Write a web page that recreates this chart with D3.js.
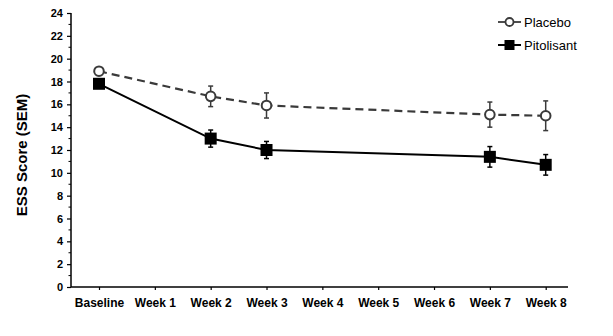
<!DOCTYPE html>
<html><head><meta charset="utf-8">
<script src="https://cdn.jsdelivr.net/npm/d3@7"></script>
<style>body{margin:0;background:#fff}svg{display:block;font-family:"Liberation Sans",Arial,sans-serif}</style>
</head><body><svg id="c" width="613" height="336"></svg>
<script>
const categories = ["Baseline","Week 1","Week 2","Week 3","Week 4","Week 5","Week 6","Week 7","Week 8"];
const placeboWeeks = ["Baseline","Week 2","Week 3","Week 7","Week 8"];
const placeboMean = [18.9, 16.7, 15.9, 15.1, 15.0];
const placeboSem  = [0, 0.9, 1.1, 1.1, 1.3];
const pitolisantWeeks = ["Baseline","Week 2","Week 3","Week 7","Week 8"];
const pitolisantMean = [17.8, 13.0, 12.0, 11.4, 10.7];
const pitolisantSem  = [0, 0.75, 0.75, 0.9, 0.9];
const yTicks = [0,2,4,6,8,10,12,14,16,18,20,22,24];
const yMinor = [1,3,5,7,9,11,13,15,17,19,21,23];

const svg = d3.select("#c");
const x = d3.scalePoint().domain(categories).range([99, 545.7]);
const y = d3.scaleLinear().domain([0,24]).range([287, 13]);
const axisLeft = 71, axisRight = 568;

// y axis
const ya = svg.append("g").attr("transform",`translate(${axisLeft},0)`)
  .call(d3.axisLeft(y).tickValues(yTicks).tickSize(4).tickPadding(4).tickFormat(d3.format("d")));
ya.select(".domain").attr("d",`M0,${y(24)}V${y(0)}`).attr("stroke","#000").attr("stroke-width",1.5);
ya.selectAll(".tick line").attr("stroke","#000").attr("stroke-width",1.2);
ya.selectAll(".tick text").attr("font-size",11).attr("font-weight","bold").attr("fill","#000");
svg.append("g").selectAll("line").data(yMinor).join("line")
  .attr("x1",axisLeft-2.5).attr("x2",axisLeft).attr("y1",d=>y(d)).attr("y2",d=>y(d))
  .attr("stroke","#000").attr("stroke-width",1);

// x axis
const xa = svg.append("g").attr("transform",`translate(0,${y(0)})`)
  .call(d3.axisBottom(x).tickSize(3).tickPadding(8));
xa.select(".domain").attr("d",`M${axisLeft},0H${axisRight}`).attr("stroke","#000").attr("stroke-width",1.5);
xa.selectAll(".tick line").attr("stroke","#000").attr("stroke-width",1.2);
xa.selectAll(".tick text").attr("font-size",12).attr("font-weight","bold").attr("fill","#000");

// y label
svg.append("text").attr("transform","translate(27,155) rotate(-90)")
  .attr("text-anchor","middle").attr("font-size",15).attr("font-weight","bold").text("ESS Score (SEM)");

const line = d3.line().x(d=>x(d.w)).y(d=>y(d.m));
const plac = placeboWeeks.map((w,i)=>({w,m:placeboMean[i],s:placeboSem[i]}));
const pito = pitolisantWeeks.map((w,i)=>({w,m:pitolisantMean[i],s:pitolisantSem[i]}));

function errBars(data,color){
  const g = svg.append("g").attr("stroke",color).attr("stroke-width",1.5);
  data.filter(d=>d.s>0).forEach(d=>{
    const cx=x(d.w);
    g.append("line").attr("x1",cx).attr("x2",cx).attr("y1",y(d.m+d.s)).attr("y2",y(d.m-d.s));
    g.append("line").attr("x1",cx-2.5).attr("x2",cx+2.5).attr("y1",y(d.m+d.s)).attr("y2",y(d.m+d.s));
    g.append("line").attr("x1",cx-2.5).attr("x2",cx+2.5).attr("y1",y(d.m-d.s)).attr("y2",y(d.m-d.s));
  });
}

// placebo
svg.append("path").datum(plac).attr("d",line).attr("fill","none")
  .attr("stroke","#3a3a3a").attr("stroke-width",2.2).attr("stroke-dasharray","8,5");
errBars(plac,"#3a3a3a");
svg.append("g").selectAll("circle").data(plac).join("circle")
  .attr("cx",d=>x(d.w)).attr("cy",d=>y(d.m)).attr("r",4.8)
  .attr("fill","#fff").attr("stroke","#3a3a3a").attr("stroke-width",2);

// pitolisant
svg.append("path").datum(pito).attr("d",line).attr("fill","none")
  .attr("stroke","#000").attr("stroke-width",2);
errBars(pito,"#000");
svg.append("g").selectAll("rect").data(pito).join("rect")
  .attr("x",d=>x(d.w)-6).attr("y",d=>y(d.m)-6).attr("width",12).attr("height",12)
  .attr("fill","#000");

// legend
const lg = svg.append("g");
lg.append("line").attr("x1",498).attr("x2",521).attr("y1",22).attr("y2",22).attr("stroke","#3a3a3a").attr("stroke-width",1.8);
lg.append("circle").attr("cx",509.5).attr("cy",22).attr("r",4).attr("fill","#fff").attr("stroke","#3a3a3a").attr("stroke-width",1.8);
lg.append("text").attr("x",524).attr("y",26.5).attr("font-size",13).text("Placebo");
lg.append("line").attr("x1",498).attr("x2",521).attr("y1",45).attr("y2",45).attr("stroke","#000").attr("stroke-width",2);
lg.append("rect").attr("x",504.5).attr("y",40).attr("width",10).attr("height",10).attr("fill","#000");
lg.append("text").attr("x",524).attr("y",49.5).attr("font-size",13).text("Pitolisant");
</script></body></html>
